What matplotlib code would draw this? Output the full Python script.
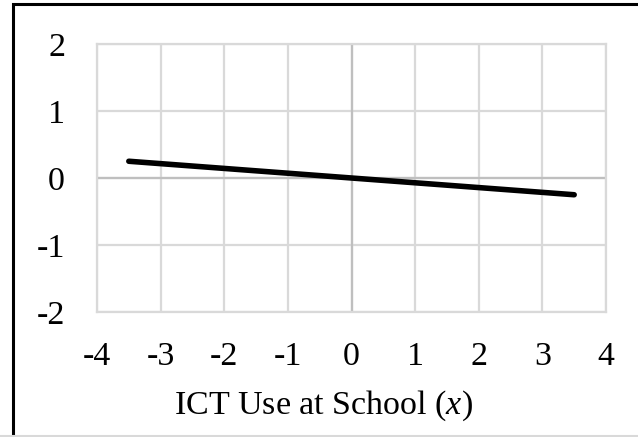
import numpy as np
import matplotlib
matplotlib.use('Agg')
import matplotlib.pyplot as plt
from matplotlib.patches import Rectangle

# data
x_vals = [-3.5, 3.5]
y_vals = [0.25, -0.25]
x_ticks = [-4, -3, -2, -1, 0, 1, 2, 3, 4]
y_ticks = [-2, -1, 0, 1, 2]

plt.rcParams['font.family'] = ['Liberation Serif', 'DejaVu Serif']
plt.rcParams['axes.unicode_minus'] = False
plt.rcParams['mathtext.fontset'] = 'custom'
plt.rcParams['mathtext.it'] = 'Liberation Serif:italic'
plt.rcParams['mathtext.rm'] = 'Liberation Serif'

fig = plt.figure(figsize=(6.38, 4.37), dpi=100)
fig.set_facecolor('w')
W, H = 638, 437
ax = fig.add_axes([97 / W, 1 - 312 / H, (606 - 97) / W, (312 - 44) / H])

grid_c = '#d9d9d9'
ax.set_xlim(-4, 4)
ax.set_ylim(-2, 2)
ax.set_xticks(x_ticks)
ax.set_yticks(y_ticks)
ax.grid(True, color=grid_c, lw=1.6)
ax.axhline(0, color='#bfbfbf', lw=1.6, zorder=1)
ax.axvline(0, color='#bfbfbf', lw=1.6, zorder=1)
for s in ax.spines.values():
    s.set_color(grid_c)
    s.set_linewidth(1.6)
ax.tick_params(axis='y', length=0, labelsize=24.5, pad=23)
ax.tick_params(axis='x', length=0, labelsize=24.5, pad=21)
ax.set_axisbelow(True)

ax.plot(x_vals, y_vals, color='black', lw=4, solid_capstyle='round', zorder=3)

ax.set_xlabel('ICT Use at School ($x$)', fontsize=24.5)
ax.xaxis.set_label_coords(0.445, -0.285)

# outer frame (left and top black, bottom light)
fig.add_artist(Rectangle((12.5 / W, -0.1), 1.2, 1 - 3.5 / H + 0.1, transform=fig.transFigure,
                         fill=False, ec='black', lw=2.2))
fig.add_artist(plt.Line2D([0, 1], [0.8 / H, 0.8 / H], transform=fig.transFigure,
                          color='#d9d9d9', lw=1.5))

fig.savefig('out.png', dpi=100)
